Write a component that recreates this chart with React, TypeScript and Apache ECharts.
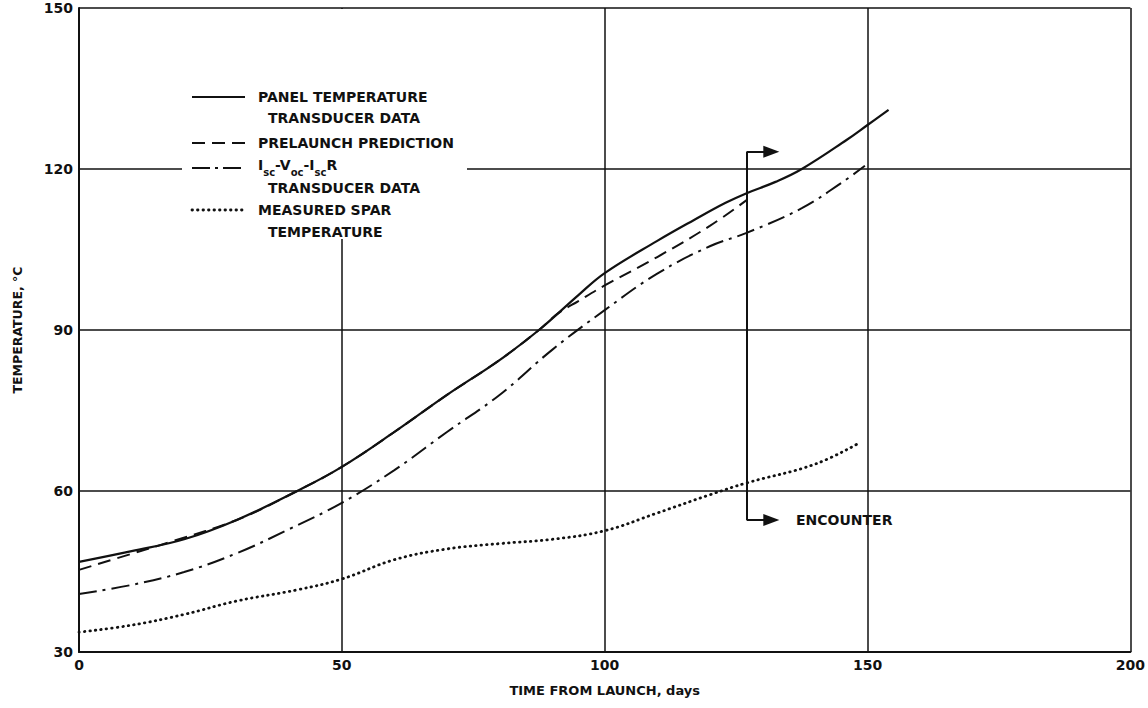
import React, { useEffect, useRef } from "react";
import * as echarts from "echarts";

// Panel temperature transducer data (solid)
const panelDays = [0, 10, 20, 30, 41.5, 50, 60, 70, 80, 87.5, 95, 100, 110, 117, 123, 127, 132.5, 137.5, 146, 150, 154];
const panelTemps = [46.8, 48.8, 51.0, 54.6, 60, 64.5, 71, 77.9, 84.4, 90, 96.5, 100.6, 106.6, 110.5, 113.7, 115.5, 117.6, 120, 125.4, 128.2, 131];

// Prelaunch prediction (dashed)
const predDays = [0, 10, 18, 30, 41.5, 50, 60, 70, 80, 87.5, 91, 95, 100, 110, 120, 127];
const predTemps = [45.3, 48.3, 50.7, 54.6, 60, 64.5, 71, 77.9, 84.4, 90, 93, 95.4, 98.3, 103.6, 109.4, 114.2];

// Isc-Voc-IscR transducer data (dash-dot)
const ivDays = [0, 10, 20, 30, 40, 50, 60, 70, 80, 90, 100, 110, 120, 127, 137.5, 145, 149.5];
const ivTemps = [40.8, 42.5, 44.9, 48.4, 52.9, 57.8, 63.9, 71, 77.9, 86.3, 93.7, 100.5, 105.6, 108.1, 112.7, 117.4, 120.6];

// Measured spar temperature (dotted)
const sparDays = [0, 10, 20, 30, 41.6, 50, 60, 70, 80, 90, 100, 110, 120, 127, 140, 148.5];
const sparTemps = [33.7, 35.0, 37.0, 39.5, 41.6, 43.6, 47.2, 49.2, 50.2, 51.0, 52.6, 55.9, 59.3, 61.5, 65.0, 69.0];

// Encounter marker
const encounterDay = 127;
const encounterArrowEnd = 131.7;
const encounterTop = 123.2;
const encounterBottom = 54.6;

const xTicks = [0, 50, 100, 150, 200];
const yTicks = [30, 60, 90, 120, 150];

const INK = "#111";
const FONT = "'DejaVu Sans', sans-serif";

const zip = (a: number[], b: number[]) => a.map((v, i) => [v, b[i]]);

export default function App() {
  const ref = useRef<HTMLDivElement>(null);
  useEffect(() => {
    document.body.style.margin = "0";
    document.documentElement.style.overflow = "hidden";
    document.body.style.overflow = "hidden";
    const chart = echarts.init(ref.current!, null, { renderer: "svg", width: 1148, height: 708 });
    const lineBase = {
      type: "line" as const,
      smooth: 0.4,
      showSymbol: false,
      silent: true,
    };
    const legendText = (x: number, y: number, text: string) => ({
      type: "text",
      x,
      y,
      z: 101,
      style: {
        text,
        font: `bold 14px ${FONT}`,
        fill: INK,
        verticalAlign: "middle",
      },
    });
    const legendLine = (y: number, lineDash: any, width = 2, cap = "butt") => ({
      type: "line",
      z: 101,
      shape: { x1: 192, y1: y, x2: 245, y2: y },
      style: { stroke: INK, lineWidth: width, lineDash, lineCap: cap },
    });
    chart.setOption({
      animation: false,
      backgroundColor: "#fff",
      grid: { left: 79, right: 6, top: 8, bottom: 56 },
      xAxis: {
        type: "value",
        min: 0,
        max: 200,
        interval: 50,
        name: "TIME FROM LAUNCH, days",
        nameLocation: "middle",
        nameGap: 32,
        nameTextStyle: { fontFamily: FONT, fontWeight: "bold", fontSize: 13, color: INK },
        axisLine: { show: true, lineStyle: { color: INK, width: 2 } },
        axisTick: { show: false },
        axisLabel: {
          fontFamily: FONT,
          fontWeight: "bold",
          fontSize: 14,
          color: INK,
          margin: 6,
          formatter: (v: number) => (xTicks.includes(v) ? String(v) : ""),
        },
        splitLine: { show: true, lineStyle: { color: INK, width: 1.5 } },
      },
      yAxis: {
        type: "value",
        min: 30,
        max: 150,
        interval: 30,
        name: "TEMPERATURE, °C",
        nameLocation: "middle",
        nameGap: 55,
        nameTextStyle: { fontFamily: FONT, fontWeight: "bold", fontSize: 12.5, color: INK },
        axisLine: { show: true, lineStyle: { color: INK, width: 2 } },
        axisTick: { show: false },
        axisLabel: {
          fontFamily: FONT,
          fontWeight: "bold",
          fontSize: 14,
          color: INK,
          margin: 6,
          formatter: (v: number) => (yTicks.includes(v) ? String(v) : ""),
        },
        splitLine: { show: true, lineStyle: { color: INK, width: 1.5 } },
      },
      series: [
        {
          ...lineBase,
          name: "PANEL TEMPERATURE TRANSDUCER DATA",
          data: zip(panelDays, panelTemps),
          lineStyle: { color: INK, width: 2.2 },
          z: 5,
        },
        {
          ...lineBase,
          name: "PRELAUNCH PREDICTION",
          data: zip(predDays, predTemps),
          lineStyle: { color: INK, width: 2, type: [13, 7] },
          z: 4,
        },
        {
          ...lineBase,
          name: "Isc-Voc-IscR TRANSDUCER DATA",
          data: zip(ivDays, ivTemps),
          lineStyle: { color: INK, width: 2, type: [18, 6, 3, 6] },
        },
        {
          ...lineBase,
          name: "MEASURED SPAR TEMPERATURE",
          data: zip(sparDays, sparTemps),
          lineStyle: { color: INK, width: 2.8, type: [0.5, 5], cap: "round" },
        },
        {
          type: "line",
          name: "ENCOUNTER",
          data: [],
          silent: true,
          markLine: {
            silent: true,
            animation: false,
            label: { show: false },
            lineStyle: { color: INK, width: 2, type: "solid" },
            data: [
              [
                { coord: [encounterDay, encounterTop], symbol: "none" },
                { coord: [encounterDay, encounterBottom], symbol: "none" },
              ],
              [
                { coord: [encounterDay, encounterTop], symbol: "none" },
                { coord: [encounterArrowEnd, encounterTop], symbol: "triangle", symbolSize: [12, 16] },
              ],
              [
                { coord: [encounterDay, encounterBottom], symbol: "none" },
                {
                  coord: [encounterArrowEnd, encounterBottom],
                  symbol: "triangle",
                  symbolSize: [12, 16],
                },
              ],
            ],
          },
        },
      ],
      graphic: [
        {
          type: "rect",
          z: 100,
          shape: { x: 182, y: 9, width: 285, height: 230 },
          style: { fill: "#fff" },
        },
        legendLine(97, null),
        legendLine(143, [13, 7]),
        legendLine(168, [18, 5, 3, 5]),
        legendLine(210, [0.5, 5], 2.8, "round"),
        legendText(258, 97, "PANEL TEMPERATURE"),
        legendText(268, 118, "TRANSDUCER DATA"),
        legendText(258, 143, "PRELAUNCH PREDICTION"),
        {
          type: "text",
          x: 258,
          y: 158,
          z: 101,
          style: {
            text: "{a|I}{s|sc}{a|-V}{s|oc}{a|-I}{s|sc}{a|R}",
            verticalAlign: "top",
            fill: INK,
            font: `bold 14px ${FONT}`,
            rich: {
              a: { font: `bold 14px ${FONT}`, fill: INK, lineHeight: 17, verticalAlign: "top" },
              s: {
                font: `bold 10px ${FONT}`,
                fill: INK,
                lineHeight: 12,
                padding: [9, 0, 0, 0],
                verticalAlign: "top",
              },
            },
          },
        },
        legendText(268, 188, "TRANSDUCER DATA"),
        legendText(258, 210, "MEASURED SPAR"),
        legendText(268, 232, "TEMPERATURE"),
        {
          type: "text",
          x: 796,
          y: 520,
          z: 101,
          style: {
            text: "ENCOUNTER",
            font: `bold 14px ${FONT}`,
            fill: INK,
            verticalAlign: "middle",
          },
        },
      ],
    });
    return () => chart.dispose();
  }, []);
  return <div ref={ref} style={{ width: 1148, height: 708 }} />;
}
